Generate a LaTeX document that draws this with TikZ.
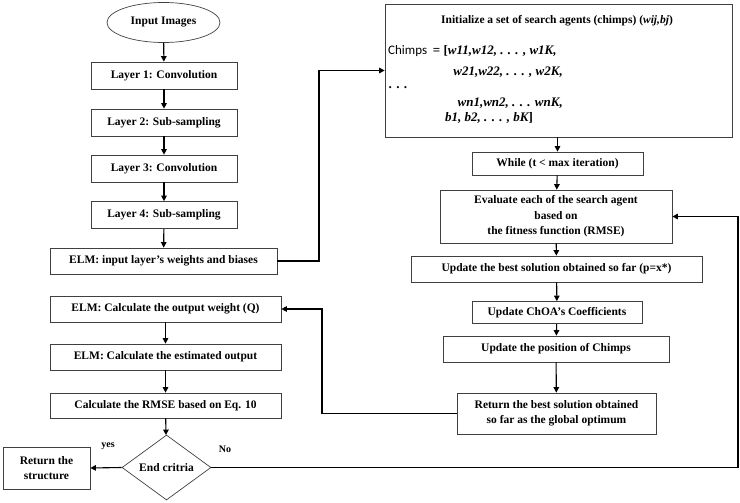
\documentclass[tikz,border=0pt]{standalone}
\usepackage{fontspec}
\setmainfont{Liberation Serif}
\newfontfamily\chimpfont{Carlito}
\usetikzlibrary{arrows.meta,shapes.geometric}
\begin{document}
\begin{tikzpicture}[x=1pt,y=-1pt,
  box/.style={draw=black!75, line width=0.7pt, rectangle, inner sep=0pt,
    font=\bfseries\fontsize{11.5}{15.5}\selectfont, align=center},
  txt/.style={inner sep=0pt, font=\bfseries\fontsize{11.5}{13}\selectfont},
  itx/.style={inner sep=0pt, font=\bfseries\itshape\fontsize{13}{14}\selectfont},
  lbl/.style={inner sep=0pt, font=\bfseries\fontsize{10}{11}\selectfont},
  conn/.style={line width=1.1pt, -{Triangle[length=5.5pt,width=5.5pt]}},
]
\useasboundingbox (0,0) rectangle (740,503);

% left column
\node[box, ellipse, minimum width=113, minimum height=40] (in) at (163.5,22.5) {Input Images};
\node[box, minimum width=146, minimum height=27] (l1) at (164,75.5) {Layer 1: Convolution};
\node[box, minimum width=146, minimum height=27] (l2) at (164,122.5) {Layer 2: Sub-sampling};
\node[box, minimum width=146, minimum height=27] (l3) at (164,168.5) {Layer 3: Convolution};
\node[box, minimum width=146, minimum height=27] (l4) at (164,215) {Layer 4: Sub-sampling};
\node[box, minimum width=227, minimum height=26] (elmin) at (163.5,261) {ELM: input layer's weights and biases};

\node[box, minimum width=231, minimum height=26] (out) at (165.5,309) {ELM: Calculate the output weight (Q)};
\node[box, minimum width=231, minimum height=26] (est) at (165.5,357) {ELM: Calculate the estimated output};
\node[box, minimum width=231, minimum height=25] (rmse) at (165.5,405.5) {Calculate the RMSE based on Eq. 10};
\node[box, diamond, minimum width=89, minimum height=65] (dia) at (166.5,467.5) {End critria};
\node[box, minimum width=87, minimum height=42] (rs) at (46.5,468) {Return the\\structure};

% right column
\node[box, minimum width=347, minimum height=133] (init) at (558.5,70.5) {};
\node[txt] (t0) at (557,21) {Initialize a set of search agents (chimps) ({\itshape wij,bj})};
\node[txt, anchor=west] (t1) at (388,51) {{\chimpfont\mdseries\fontsize{13}{14}\selectfont Chimps}\ \ {\fontsize{13}{14}\selectfont= [\itshape w11,w12, . . . , w1K,}};
\node[itx, anchor=east] (t2) at (563,72) {w21,w22, . . . , w2K,};
\node[itx, anchor=west] (t3) at (389,88) {. . .};
\node[itx, anchor=east] (t4) at (563,103) {wn1,wn2, . . . wnK,};
\node[itx, anchor=west] (t5) at (445,118) {b1, b2, . . . , bK\upshape]};

\node[box, minimum width=171, minimum height=23] (while) at (557.5,163.5) {While (t < max iteration)};
\node[box, minimum width=232, minimum height=53] (eval) at (556,216.5) {Evaluate each of the search agent\\based on\\the fitness function (RMSE)};
\node[box, minimum width=291, minimum height=26] (upd) at (556.5,269) {Update the best solution obtained so far (p=x*)};
\node[box, minimum width=170, minimum height=22] (choa) at (557,312.5) {Update ChOA's Coefficients};
\node[box, minimum width=226, minimum height=26] (pos) at (556,349) {Update the position of Chimps};
\node[box, minimum width=199, minimum height=41] (ret) at (556.5,413.5) {Return the best solution obtained\\so far as the global optimum};

% labels
\node[lbl] (yes) at (108,446) {yes};
\node[lbl] (no) at (225,449) {No};

% connectors
\draw[conn] (in) -- (l1);
\draw[conn] (l1) -- (l2);
\draw[conn] (l2) -- (l3);
\draw[conn] (l3) -- (l4);
\draw[conn] (l4) -- (elmin);
\coordinate (c2) at (319,261);
\draw[conn] (elmin.east) -- (c2) |- (init.west);
\draw[conn] (init.south -| while.north) -- (while.north);
\draw[conn] (while) -- (eval);
\draw[conn] (eval) -- (upd);
\draw[conn] (upd) -- (choa);
\draw[conn] (choa) -- (pos);
\draw[conn] (pos) -- (ret);
\coordinate (c1) at (322,413.5);
\draw[conn] (ret.west) -- (c1) |- (out.east);
\draw[conn] (out) -- (est);
\draw[conn] (est) -- (rmse);
\draw[conn] (rmse) -- (dia);
\draw[conn] (dia.west) -- (rs.east);
\coordinate (c3) at (738,467.5);
\draw[conn] (dia.east) -- (c3) |- (eval.east);
\end{tikzpicture}
\end{document}
